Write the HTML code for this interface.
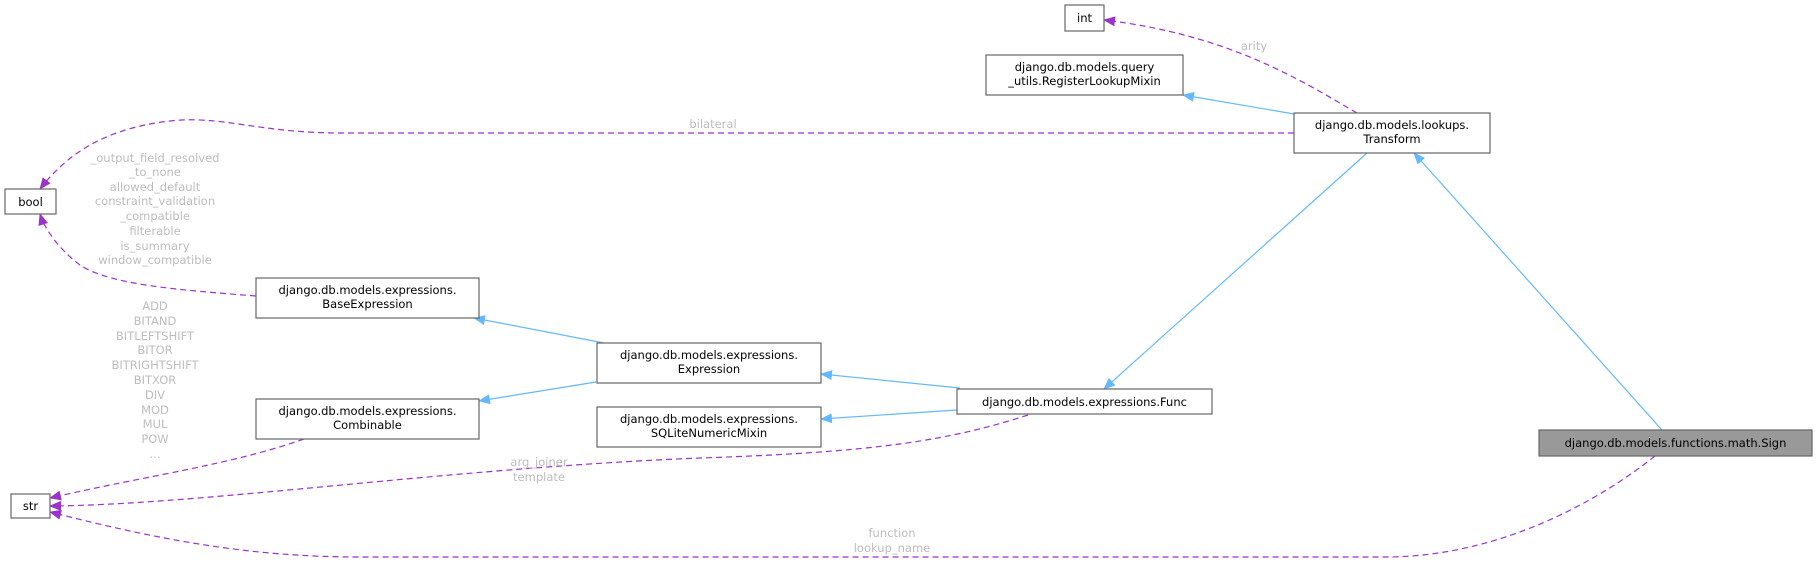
<!DOCTYPE html>
<html><head><meta charset="utf-8"><style>
body{margin:0;background:#fff;}
svg{display:block;font-family:"DejaVu Sans","Liberation Sans",sans-serif;}
.n{fill:#fff;stroke:#666;stroke-width:1.2}
.t{font-size:11.5px;fill:#000;text-anchor:middle}
.l{font-size:11.5px;fill:#bdbdbd;text-anchor:middle}
.b{fill:none;stroke:#63b8ff;stroke-width:1.2}
.p{fill:none;stroke:#9a32cd;stroke-width:1.2;stroke-dasharray:6,4}
</style></head><body>
<svg width="1817" height="562" viewBox="0 0 1817 562" xmlns="http://www.w3.org/2000/svg">
<defs>
<marker id="ab" markerWidth="12" markerHeight="10" refX="11" refY="5" orient="auto" markerUnits="userSpaceOnUse"><path d="M0,0 L12,5 L0,10 z" fill="#63b8ff"/></marker>
<marker id="ap" markerWidth="12" markerHeight="10" refX="11" refY="5" orient="auto" markerUnits="userSpaceOnUse"><path d="M0,0 L12,5 L0,10 z" fill="#9a32cd"/></marker>
</defs>

<path class="b" d="M1294,114 L1183,95" marker-end="url(#ab)"/>
<path class="b" d="M1367,153 L1104,389" marker-end="url(#ab)"/>
<path class="b" d="M1662,430 L1414,153" marker-end="url(#ab)"/>
<path class="b" d="M604,343 L474,318" marker-end="url(#ab)"/>
<path class="b" d="M596,382 L479,401" marker-end="url(#ab)"/>
<path class="b" d="M960,388 L821,374" marker-end="url(#ab)"/>
<path class="b" d="M957,410 L821,419" marker-end="url(#ab)"/>

<path class="p" d="M1357,113 C1300,80 1230,35 1104,20" marker-end="url(#ap)"/>
<path class="p" d="M1294,133 L340,133 C260,133 220,115 170,121 C110,128 70,150 40,189" marker-end="url(#ap)"/>
<path class="p" d="M256,296 C180,290 110,285 80,265 C60,250 45,230 40,214" marker-end="url(#ap)"/>
<path class="p" d="M304,439 C230,465 150,475 50,498" marker-end="url(#ap)"/>
<path class="p" d="M1028,415 C950,440 880,452 700,458 C450,468 200,505 50,506" marker-end="url(#ap)"/>
<path class="p" d="M1655,456 C1600,500 1500,557 1385,557 L360,557 C250,557 160,540 50,512" marker-end="url(#ap)"/>

<text class="l" x="1254" y="50">arity</text>
<text class="l" x="713" y="128">bilateral</text>
<g class="l">
<text x="155" y="162">_output_field_resolved</text>
<text x="155" y="176">_to_none</text>
<text x="155" y="191">allowed_default</text>
<text x="155" y="205">constraint_validation</text>
<text x="155" y="220">_compatible</text>
<text x="155" y="235">filterable</text>
<text x="155" y="250">is_summary</text>
<text x="155" y="264">window_compatible</text>
</g>
<g class="l">
<text x="155" y="310">ADD</text>
<text x="155" y="325">BITAND</text>
<text x="155" y="340">BITLEFTSHIFT</text>
<text x="155" y="354">BITOR</text>
<text x="155" y="369">BITRIGHTSHIFT</text>
<text x="155" y="384">BITXOR</text>
<text x="155" y="399">DIV</text>
<text x="155" y="414">MOD</text>
<text x="155" y="428">MUL</text>
<text x="155" y="443">POW</text>
<text x="155" y="458">...</text>
</g>
<text class="l" x="539" y="466">arg_joiner</text>
<text class="l" x="539" y="481">template</text>
<text class="l" x="892" y="537">function</text>
<text class="l" x="892" y="552">lookup_name</text>

<rect class="n" x="1065" y="5" width="39" height="26"/><text class="t" x="1084.5" y="22">int</text>
<rect class="n" x="986" y="55" width="197" height="40"/><text class="t" x="1084.5" y="71">django.db.models.query</text><text class="t" x="1084.5" y="85">_utils.RegisterLookupMixin</text>
<rect class="n" x="1294" y="113" width="196" height="40"/><text class="t" x="1392" y="129">django.db.models.lookups.</text><text class="t" x="1392" y="143">Transform</text>
<rect class="n" x="5" y="189" width="51" height="25"/><text class="t" x="30.5" y="206">bool</text>
<rect class="n" x="256" y="278" width="223" height="40"/><text class="t" x="367.5" y="294">django.db.models.expressions.</text><text class="t" x="367.5" y="308">BaseExpression</text>
<rect class="n" x="597" y="343" width="224" height="40"/><text class="t" x="709" y="359">django.db.models.expressions.</text><text class="t" x="709" y="373">Expression</text>
<rect class="n" x="256" y="399" width="223" height="40"/><text class="t" x="367.5" y="415">django.db.models.expressions.</text><text class="t" x="367.5" y="429">Combinable</text>
<rect class="n" x="597" y="407" width="224" height="40"/><text class="t" x="709" y="423">django.db.models.expressions.</text><text class="t" x="709" y="437">SQLiteNumericMixin</text>
<rect class="n" x="957" y="389" width="255" height="25"/><text class="t" x="1084.5" y="406">django.db.models.expressions.Func</text>
<rect x="1539" y="430" width="273" height="26" fill="#999" stroke="#666" stroke-width="1.2"/><text class="t" x="1675.5" y="447">django.db.models.functions.math.Sign</text>
<rect class="n" x="11" y="494" width="39" height="24"/><text class="t" x="30.5" y="510">str</text>
</svg>
</body></html>
